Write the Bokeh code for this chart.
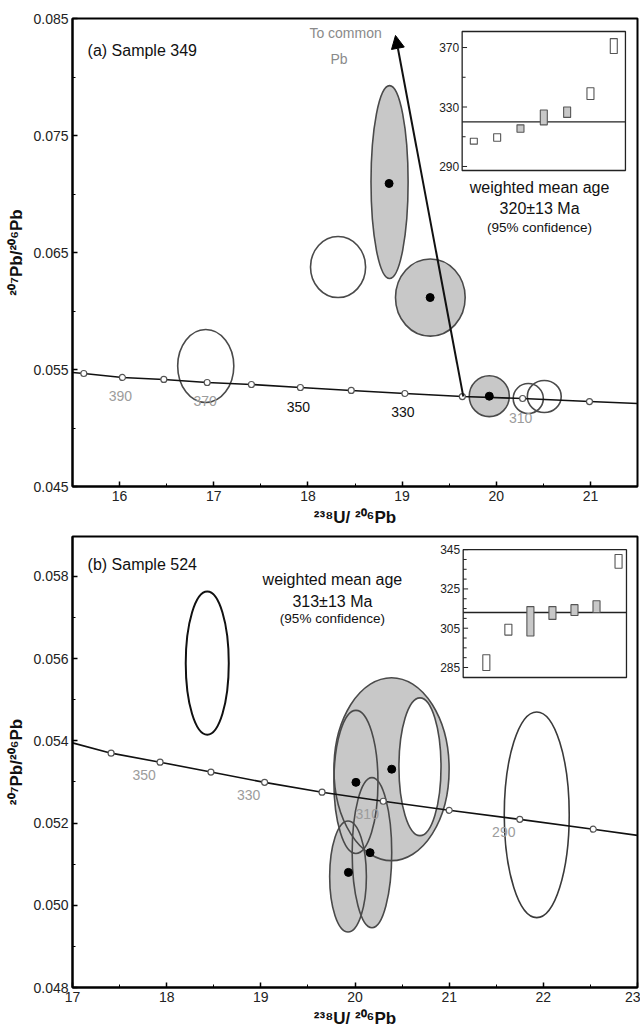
from bokeh.plotting import figure
from bokeh.models import Range1d, FixedTicker, Arrow, NormalHead, PrintfTickFormatter
from bokeh.layouts import column
from bokeh.core.properties import value
from bokeh.embed import file_html
from bokeh.resources import INLINE

FONT = "Liberation Sans"
GRAY_FILL = "#c8c8c8"
EDGE = "#4a4a4a"
FADED = "#9c9c9c"

# ================= DATA =================
# ---- Panel (a): Sample 349 ----
a_conc_age = [400, 390, 380, 370, 360, 350, 340, 330, 320, 310, 300]
a_conc_x = [15.62, 16.03, 16.47, 16.93, 17.40, 17.92, 18.46, 19.03, 19.64, 20.28, 20.99]
a_conc_y = [0.05466, 0.05432, 0.05415, 0.05389, 0.05372, 0.05346, 0.05321, 0.05295, 0.05269, 0.05252, 0.05226]
a_curve_x = [15.50, 15.62, 16.03, 16.47, 16.93, 17.40, 17.92, 18.46, 19.03, 19.64, 20.28, 20.99, 21.50]
a_curve_y = [0.05474, 0.05466, 0.05432, 0.05415, 0.05389, 0.05372, 0.05346, 0.05321, 0.05295, 0.05269, 0.05252, 0.05226, 0.05209]
a_label_ages = [390, 370, 350, 330, 310]
a_label_faded = [True, True, False, False, True]

a_ell_x = [16.915, 18.32, 18.867, 19.30, 19.926, 20.51, 20.34]
a_ell_y = [0.0553, 0.06376, 0.07102, 0.06115, 0.05272, 0.05269, 0.05252]
a_ell_w = [0.596, 0.585, 0.394, 0.74, 0.426, 0.36, 0.32]
a_ell_h = [0.00624, 0.00522, 0.01649, 0.0066, 0.0035, 0.00274, 0.00256]
a_ell_filled = [False, False, True, True, True, False, False]
a_pt_x = [18.862, 19.298, 19.926]
a_pt_y = [0.0709, 0.06115, 0.05272]

a_arrow_x = [19.65, 18.93]
a_arrow_y = [0.05269, 0.08355]

a_in_idx = [1, 2, 3, 4, 5, 6, 7]
a_in_lo = [305, 307, 313, 318, 323, 335, 366]
a_in_hi = [309, 312, 318, 328, 330, 343, 376]
a_in_filled = [False, False, True, True, True, False, False]
a_in_mean = 320
a_in_major = [290, 330, 370]
a_in_minor = [310, 350]
a_mean_text = ["weighted mean age", "320±13 Ma", "(95% confidence)"]

# ---- Panel (b): Sample 524 ----
b_conc_age = [360, 350, 340, 330, 320, 310, 300, 290, 280]
b_conc_x = [17.41, 17.93, 18.47, 19.04, 19.65, 20.30, 21.00, 21.75, 22.53]
b_conc_y = [0.05370, 0.05348, 0.05324, 0.05299, 0.05275, 0.05253, 0.05231, 0.05209, 0.05185]
b_curve_x = [17.00, 17.41, 17.93, 18.47, 19.04, 19.65, 20.30, 21.00, 21.75, 22.53, 23.00]
b_curve_y = [0.05395, 0.05370, 0.05348, 0.05324, 0.05299, 0.05275, 0.05253, 0.05231, 0.05209, 0.05185, 0.05170]
b_label_ages = [350, 330, 310, 290]

# order: big ring, inner white, upper-left grey, lower-left grey, lower-right grey, open tall, open right
b_ell_x = [20.388, 20.69, 20.01, 19.926, 20.18, 18.431, 21.93]
b_ell_y = [0.05331, 0.05337, 0.05300, 0.05070, 0.05128, 0.05589, 0.05220]
b_ell_w = [1.223, 0.447, 0.468, 0.39, 0.42, 0.457, 0.69]
b_ell_h = [0.00445, 0.00335, 0.00348, 0.0027, 0.00365, 0.00348, 0.00501]
b_ell_fill = ["grey", "white", "grey", "grey", "grey", "none", "none"]
b_pt_x = [20.39, 20.01, 19.93, 20.16]
b_pt_y = [0.05331, 0.05299, 0.05080, 0.05128]

b_in_idx = [1, 2, 3, 4, 5, 6, 7]
b_in_lo = [283.5, 301.5, 301.0, 309.5, 311.5, 313.0, 335.5]
b_in_hi = [291.5, 307.0, 316.0, 316.0, 317.0, 319.0, 342.5]
b_in_filled = [False, False, True, True, True, True, False]
b_in_mean = 313
b_in_major = [285, 305, 325, 345]
b_in_minor = [290, 295, 300, 310, 315, 320, 330, 335, 340]
b_mean_text = ["weighted mean age", "313±13 Ma", "(95% confidence)"]


# ================= HELPERS =================
def style_axes(p, xt, xm, yt, ym):
    p.grid.visible = False
    p.outline_line_color = "black"
    p.outline_line_width = 2
    p.xaxis.ticker = FixedTicker(ticks=xt, minor_ticks=xm)
    p.yaxis.ticker = FixedTicker(ticks=yt, minor_ticks=ym)
    p.yaxis.formatter = PrintfTickFormatter(format="%.3f")
    for ax in (p.xaxis, p.yaxis):
        ax.axis_line_width = 2
        ax.axis_line_color = "black"
        ax.major_tick_in = 5
        ax.major_tick_out = 0
        ax.minor_tick_in = 3
        ax.minor_tick_out = 0
        ax.major_tick_line_width = 1.5
        ax.major_label_text_font = FONT
        ax.major_label_text_font_size = "14px"
        ax.major_label_text_color = "#222222"
        ax.major_label_standoff = 4
        ax.axis_label_text_font = FONT
        ax.axis_label_text_font_size = "17px"
        ax.axis_label_text_font_style = "bold"
        ax.axis_label_text_color = "#111111"
        ax.axis_label_standoff = 4
    p.xaxis.axis_label = "²³⁸U/ ²⁰⁶Pb"
    p.yaxis.axis_label = "²⁰⁷Pb/²⁰⁶Pb"


def draw_ellipses(p, xs, ys, ws, hs, fills, edge_colors, edge_widths):
    for x, y, w, h, f in zip(xs, ys, ws, hs, fills):
        if f == "none":
            continue
        p.ellipse(x=[x], y=[y], width=[w], height=[h],
                  fill_color=GRAY_FILL if f == "grey" else "white", line_color=None)
    for x, y, w, h, c, lw in zip(xs, ys, ws, hs, edge_colors, edge_widths):
        p.ellipse(x=[x], y=[y], width=[w], height=[h], fill_color=None,
                  line_color=c, line_width=lw)


def draw_concordia(p, cx, cy, px, py):
    p.line(cx, cy, line_color="#111111", line_width=1.6)
    p.scatter(px, py, size=6, marker="circle", fill_color="white",
              line_color="#555555", line_width=1.2)


def draw_inset(p, xsrc, ysrc, xtgt, ytgt, idx, lo, hi, filled, mean, major, minor, barw):
    sub = p.subplot(x_source=xsrc, y_source=ysrc, x_target=xtgt, y_target=ytgt)
    x0, x1 = xsrc.start, xsrc.end
    sub.quad(left=[x0], right=[x1], bottom=[ysrc.start], top=[ysrc.end],
             fill_color="white", line_color="#222222", line_width=1.3)
    sub.segment(x0=[x0], x1=[x1], y0=[mean], y1=[mean], line_color="#222222", line_width=1.3)
    sub.vbar(x=idx, width=barw, bottom=lo, top=hi,
             fill_color=[GRAY_FILL if f else "white" for f in filled],
             line_color="#555555", line_width=1.1)
    tick = (x1 - x0) * 0.03
    sub.segment(x0=[x0] * len(major), x1=[x0 + tick] * len(major), y0=major, y1=major,
                line_color="#222222", line_width=1)
    sub.segment(x0=[x0] * len(minor), x1=[x0 + tick * 0.7] * len(minor), y0=minor, y1=minor,
                line_color="#222222", line_width=1)
    sub.text(x=[x0] * len(major), y=major, text=[str(t) for t in major], x_offset=-3,
             text_align="right", text_baseline="middle", text_font=value(FONT),
             text_font_size=value("12px"), text_color="#222222")


def mean_block(p, x, ys, texts):
    sizes = ["16px", "16px", "13.5px"]
    for y, t, s in zip(ys, texts, sizes):
        p.text(x=[x], y=[y], text=[t], text_align="center", text_baseline="middle",
               text_font=value(FONT), text_font_size=value(s), text_color="#111111")


# ================= PANEL (a) =================
pa = figure(width=640, height=530, x_range=Range1d(15.5, 21.5), y_range=Range1d(0.045, 0.085),
            output_backend="svg", toolbar_location=None,
            min_border_left=72, min_border_right=3, min_border_top=18, min_border_bottom=44)
style_axes(pa, [16, 17, 18, 19, 20, 21], [15.5, 16.5, 17.5, 18.5, 19.5, 20.5, 21.5],
           [0.045, 0.055, 0.065, 0.075, 0.085], [0.05, 0.06, 0.07, 0.08])

draw_ellipses(pa, a_ell_x, a_ell_y, a_ell_w, a_ell_h,
              ["grey" if f else "none" for f in a_ell_filled],
              [EDGE] * len(a_ell_x), [1.6] * len(a_ell_x))

pa.add_layout(Arrow(end=NormalHead(size=13, fill_color="black", line_color="black"),
                    x_start=a_arrow_x[0], y_start=a_arrow_y[0],
                    x_end=a_arrow_x[1], y_end=a_arrow_y[1],
                    line_color="#111111", line_width=2))

draw_concordia(pa, a_curve_x, a_curve_y, a_conc_x, a_conc_y)
pa.scatter(a_pt_x, a_pt_y, size=8, marker="circle", color="black")

for age, faded in zip(a_label_ages, a_label_faded):
    i = a_conc_age.index(age)
    pa.text(x=[a_conc_x[i]], y=[a_conc_y[i]], text=[str(age)], y_offset=19, x_offset=-2,
            text_align="center", text_baseline="middle", text_font=value(FONT),
            text_font_size=value("14px"), text_color=FADED if faded else "#111111")

pa.text(x=[18.40, 18.33], y=[0.08372, 0.08158], text=["To common", "Pb"],
        text_align="center", text_baseline="middle", text_font=value(FONT),
        text_font_size=value("14px"), text_color="#8a8a8a")
pa.text(x=[15.66], y=[0.08226], text=["(a) Sample 349"], text_align="left",
        text_baseline="middle", text_font=value(FONT), text_font_size=value("16px"),
        text_color="#111111")

draw_inset(pa, Range1d(0.5, 7.5), Range1d(287.3, 380.8), Range1d(19.638, 21.372),
           Range1d(0.07201, 0.08389), a_in_idx, a_in_lo, a_in_hi, a_in_filled,
           a_in_mean, a_in_major, a_in_minor, 0.3)
mean_block(pa, 20.46, [0.07056, 0.06876, 0.06714], a_mean_text)

# ================= PANEL (b) =================
pb = figure(width=640, height=501, x_range=Range1d(17, 23), y_range=Range1d(0.048, 0.05897),
            output_backend="svg", toolbar_location=None,
            min_border_left=72, min_border_right=3, min_border_top=6, min_border_bottom=44)
style_axes(pb, [17, 18, 19, 20, 21, 22, 23], [17.5, 18.5, 19.5, 20.5, 21.5, 22.5],
           [0.048, 0.050, 0.052, 0.054, 0.056, 0.058],
           [0.049, 0.051, 0.053, 0.055, 0.057])

b_edge = [EDGE, EDGE, EDGE, EDGE, EDGE, "#111111", "#3a3a3a"]
b_lw = [1.6, 1.6, 1.6, 1.6, 1.6, 2.0, 1.6]
draw_ellipses(pb, b_ell_x, b_ell_y, b_ell_w, b_ell_h, b_ell_fill, b_edge, b_lw)

draw_concordia(pb, b_curve_x, b_curve_y, b_conc_x, b_conc_y)
pb.scatter(b_pt_x, b_pt_y, size=8, marker="circle", color="black")

for age in b_label_ages:
    i = b_conc_age.index(age)
    pb.text(x=[b_conc_x[i]], y=[b_conc_y[i]], text=[str(age)], y_offset=13, x_offset=-16,
            text_align="center", text_baseline="middle", text_font=value(FONT),
            text_font_size=value("14px"), text_color=FADED)

pb.text(x=[17.16], y=[0.0583], text=["(b) Sample 524"], text_align="left",
        text_baseline="middle", text_font=value(FONT), text_font_size=value("16px"),
        text_color="#111111")

draw_inset(pb, Range1d(-0.05, 7.36), Range1d(279.9, 345.0), Range1d(21.149, 22.883),
           Range1d(0.05554, 0.05865), b_in_idx, b_in_lo, b_in_hi, b_in_filled,
           b_in_mean, b_in_major, b_in_minor, 0.32)
mean_block(pb, 19.76, [0.05792, 0.05740, 0.05697], b_mean_text)

layout = column(pa, pb, spacing=0)
open("out.html", "w").write(file_html(layout, INLINE))
